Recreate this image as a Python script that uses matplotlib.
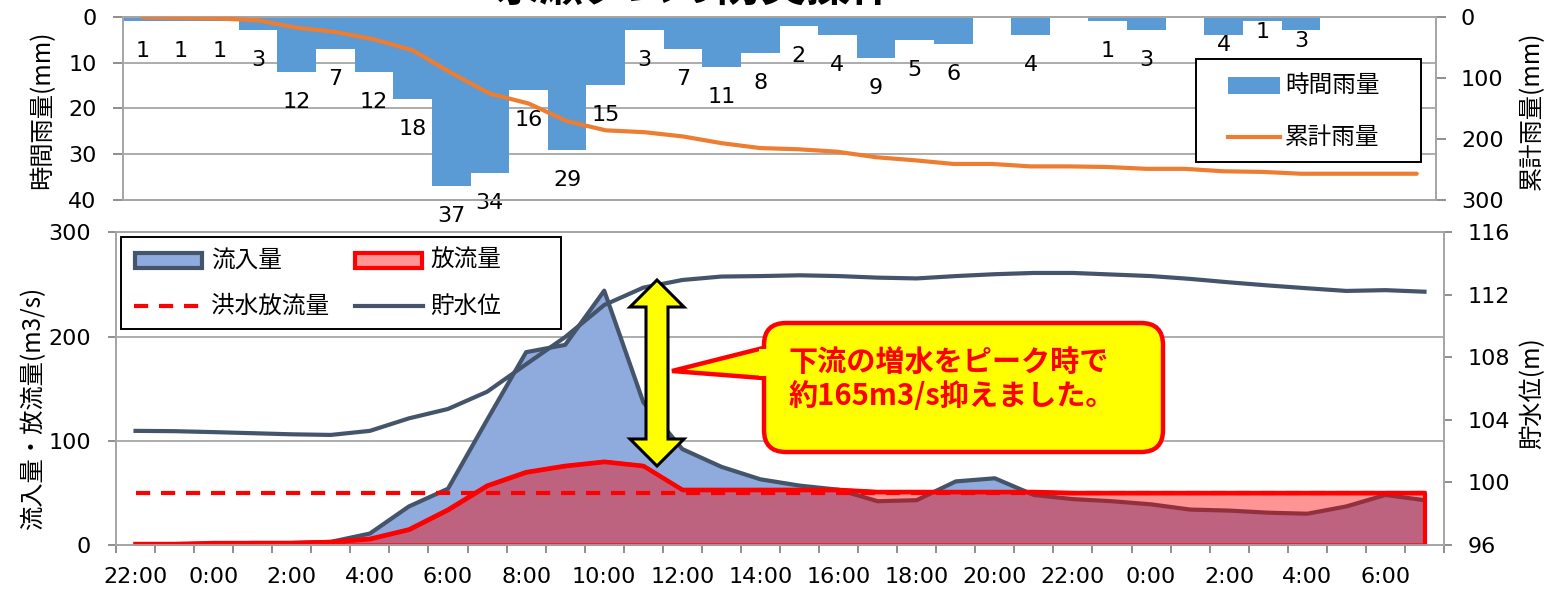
import matplotlib
matplotlib.use("Agg")
import matplotlib.pyplot as plt
import matplotlib.transforms as mtransforms
from matplotlib.patches import Polygon, FancyBboxPatch, Rectangle
from matplotlib.lines import Line2D
from matplotlib.ticker import FixedLocator

# ---------------- data ----------------
hours = ["22:00", "23:00", "0:00", "1:00", "2:00", "3:00", "4:00", "5:00", "6:00",
         "7:00", "8:00", "9:00", "10:00", "11:00", "12:00", "13:00", "14:00",
         "15:00", "16:00", "17:00", "18:00", "19:00", "20:00", "21:00", "22:00",
         "23:00", "0:00", "1:00", "2:00", "3:00", "4:00", "5:00", "6:00", "7:00"]

rain_hourly = [1, 1, 1, 3, 12, 7, 12, 18, 37, 34, 16, 29, 15, 3, 7, 11, 8, 2, 4, 9,
               5, 6, 0, 4, 0, 1, 3, 0, 4, 1, 3, 0, 0, 0]
rain_cum = [1, 2, 3, 6, 18, 25, 37, 55, 92, 126, 142, 171, 186, 189, 196, 207, 215,
            217, 221, 230, 235, 241, 241, 245, 245, 246, 249, 249, 253, 254, 257,
            257, 257, 257]

inflow = [1, 1, 1, 2, 2, 3, 11, 37, 54, 120, 185, 192, 244, 137, 92, 75, 63, 57, 53,
          42, 43, 61, 64, 48, 44, 42, 39, 34, 33, 31, 30, 37, 48, 43]
outflow = [1, 1, 2, 2, 2, 3, 6, 15, 34, 57, 70, 76, 80, 76, 53, 53, 53, 53, 53, 51,
           51, 51, 51, 51, 50, 50, 50, 50, 50, 50, 50, 50, 50, 50]
flood_q = [50, 50, 50, 50, 50, 50, 50, 50, 50, 50, 50, 50, 50, 50, 50, 50, 50, 50,
           50, 50, 50, 50, 50, 50, 50, 50, 50, 50, 50, 50, 50, 50, 50, 50]
level = [103.3, 103.28, 103.22, 103.15, 103.08, 103.04, 103.3, 104.1, 104.7, 105.8,
         107.56, 109.3, 111.35, 112.46, 112.95, 113.17, 113.2, 113.25, 113.2, 113.1,
         113.05, 113.2, 113.32, 113.4, 113.4, 113.3, 113.2, 113.02, 112.8, 112.6,
         112.42, 112.25, 112.3, 112.2]

title = "永瀬ダムの防災操作"
callout = "下流の増水をピーク時で\n約165m3/s抑えました。"

# ---------------- style ----------------
W, H = 1566, 593
plt.rcParams['font.family'] = ['DejaVu Sans', 'Noto Sans CJK JP']
JP = ['Noto Sans CJK JP', 'DejaVu Sans']
GRAY = '#A6A6A6'
TICKG = '#868686'
BAR = '#5B9BD5'
ORANGE = '#ED7D31'
SLATE = '#44546A'
INBLUE = '#8FAADC'
RED = '#FF0000'
OUTFILL = (1, 0, 0, 0.42)
DASH = (3.4, 2.6)
NUMFS = 16
LEGFS = 17
# data labels that sit raised (closer to their bar) to clear the legend
raised_labels = {28, 29, 30}

fig = plt.figure(figsize=(W / 100, H / 100), dpi=100)
pix = mtransforms.Affine2D().scale(1, -1).translate(0, H)   # pixel coords, top-left origin

def frac_rect(x0, y0, x1, y1):
    return [x0 / W, 1 - y1 / H, (x1 - x0) / W, (y1 - y0) / H]

n = len(hours)
x = list(range(n))

# ---------------- top panel ----------------
ax1 = fig.add_axes(frac_rect(123, 16.7, 1436, 200))
ax1.bar(x, rain_hourly, width=1.0, color=BAR, zorder=2)
ax1.set_xlim(-0.5, n - 0.5)
ax1.set_ylim(40, 0)
ax1.set_yticks([0, 10, 20, 30, 40])
ax1.yaxis.grid(True, color=GRAY, lw=1.3, zorder=0)
ax1.set_axisbelow(True)
ax1.set_xticks([])
for s in ax1.spines.values():
    s.set_color(GRAY)
    s.set_linewidth(1.3)
ax1.tick_params(axis='y', length=7, color=TICKG, width=1.3, labelsize=NUMFS, pad=12)

for i, v in enumerate(rain_hourly):
    if v > 0:
        off = -7.5 if i in raised_labels else -21.6
        ax1.annotate(str(v), (i, v), xytext=(0, off), textcoords='offset points',
                     ha='center', va='center', fontsize=NUMFS, zorder=5)

ax1b = ax1.twinx()
ax1b.plot(x, rain_cum, color=ORANGE, lw=3, solid_capstyle='round', zorder=3)
ax1b.set_ylim(300, 0)
ax1b.set_yticks([0, 100, 200, 300])
ax1b.tick_params(axis='y', length=7, color=TICKG, width=1.3, labelsize=NUMFS, pad=11)
for s in ax1b.spines.values():
    s.set_color(GRAY)
    s.set_linewidth(1.3)

# ---------------- bottom panel ----------------
ax2 = fig.add_axes(frac_rect(116, 232.3, 1444, 545))
ax2.fill_between(x, 0, inflow, facecolor=INBLUE, edgecolor='none', zorder=2)
ax2.plot(x, inflow, color=SLATE, lw=3, zorder=3)
ax2.fill_between(x, 0, outflow, facecolor=OUTFILL, edgecolor=RED, lw=3, zorder=4)
ax2.plot(x, flood_q, color=RED, lw=3, dashes=DASH, zorder=5)
ax2.plot(x, outflow, color=RED, lw=3, zorder=6)
ax2.set_xlim(-0.5, n - 0.5)
ax2.set_ylim(0, 300)
ax2.set_yticks([0, 100, 200, 300])
ax2.yaxis.grid(True, color=GRAY, lw=1.3, zorder=0)
ax2.set_axisbelow(True)
for s in ax2.spines.values():
    s.set_color(GRAY)
    s.set_linewidth(1.3)
ax2.set_xticks(x[::2])
ax2.set_xticklabels(hours[::2])
ax2.xaxis.set_minor_locator(FixedLocator([i + 0.5 for i in range(-1, n)]))
ax2.tick_params(axis='x', which='major', length=0, labelsize=NUMFS, pad=16)
ax2.tick_params(axis='x', which='minor', length=6, color=TICKG, width=1.3)
ax2.tick_params(axis='y', length=6, color=TICKG, width=1.3, labelsize=NUMFS, pad=12)

ax2b = ax2.twinx()
ax2b.plot(x, level, color=SLATE, lw=3, zorder=3)
ax2b.set_ylim(96, 116)
ax2b.set_yticks([96, 100, 104, 108, 112, 116])
ax2b.tick_params(axis='y', length=6, color=TICKG, width=1.3, labelsize=NUMFS, pad=11)
for s in ax2b.spines.values():
    s.set_color(GRAY)
    s.set_linewidth(1.3)

# ---------------- axis titles ----------------
def vlabel(xc, yc, s, size):
    fig.text(xc, yc, s, family=JP, fontsize=size, rotation=90,
             ha='center', va='center', transform=pix)

vlabel(42, 110, "時間雨量(mm)", 17.5)
vlabel(1532, 111, "累計雨量(mm)", 17.5)
vlabel(33, 408, "流入量・放流量(m3/s)", 17.5)
vlabel(1532, 393, "貯水位(m)", 17.5)

# ---------------- legends (drawn as boxes in pixel space) ----------------
def leg_text(xl, yc, s):
    fig.text(xl, yc, s, family=JP, fontsize=LEGFS, ha='left', va='center',
             transform=pix, zorder=21)

# top legend
fig.add_artist(Rectangle((1196, 59), 225, 103, facecolor='white', edgecolor='black',
                         lw=1.4, transform=pix, zorder=20))
fig.add_artist(Rectangle((1228, 77), 52, 17, facecolor=BAR, edgecolor='none',
                         transform=pix, zorder=21))
leg_text(1285, 85, "時間雨量")
fig.add_artist(Line2D([1228, 1280], [137, 137], color=ORANGE, lw=3,
                      transform=pix, zorder=21))
leg_text(1285, 137, "累計雨量")

# bottom legend
fig.add_artist(Rectangle((121, 237), 440, 92, facecolor='white', edgecolor='black',
                         lw=1.4, transform=pix, zorder=20))
fig.add_artist(Rectangle((135, 253), 67, 15, facecolor=INBLUE, edgecolor=SLATE, lw=3,
                         transform=pix, zorder=21))
leg_text(211, 260, "流入量")
fig.add_artist(Rectangle((355, 253), 67, 15, facecolor=OUTFILL, edgecolor=RED, lw=3,
                         transform=pix, zorder=21))
leg_text(430, 260, "放流量")
fig.add_artist(Line2D([134, 202], [306, 306], color=RED, lw=3, dashes=DASH,
                      transform=pix, zorder=21))
leg_text(211, 306, "洪水放流量")
fig.add_artist(Line2D([355, 423], [306, 306], color=SLATE, lw=3,
                      transform=pix, zorder=21))
leg_text(430, 306, "貯水位")

# ---------------- annotations ----------------
cx, top, bot = 657, 280, 466
hw, sw, hl = 27, 11, 27
arrow_pts = [(cx, top), (cx + hw, top + hl), (cx + sw, top + hl), (cx + sw, bot - hl),
             (cx + hw, bot - hl), (cx, bot), (cx - hw, bot - hl), (cx - sw, bot - hl),
             (cx - sw, top + hl), (cx - hw, top + hl)]
fig.add_artist(Polygon(arrow_pts, closed=True, facecolor='#FFFF00', edgecolor='black',
                       lw=2.2, transform=pix, zorder=10, joinstyle='miter'))

fig.add_artist(Polygon([(775, 345), (672, 371), (775, 379)], closed=True,
                       facecolor='#FFFF00', edgecolor=RED, lw=3.2, transform=pix,
                       zorder=11, joinstyle='miter'))
fig.add_artist(FancyBboxPatch((764, 323), 399, 129,
                              boxstyle="round,pad=0,rounding_size=22",
                              facecolor='#FFFF00', edgecolor=RED, lw=3.2,
                              transform=pix, zorder=12))
fig.add_artist(Polygon([(759, 349), (772, 349), (772, 376), (759, 376)], closed=True,
                       facecolor='#FFFF00', edgecolor='none', transform=pix, zorder=13))
fig.text(789, 379, callout, family=JP, fontsize=21, fontweight='bold', color=RED,
         ha='left', va='center', linespacing=1.2, transform=pix, zorder=14)

fig.text(695, -11, title, family=JP, fontsize=32, fontweight='bold',
         ha='center', va='center', transform=pix, zorder=14)

fig.savefig("out.png", dpi=100)
